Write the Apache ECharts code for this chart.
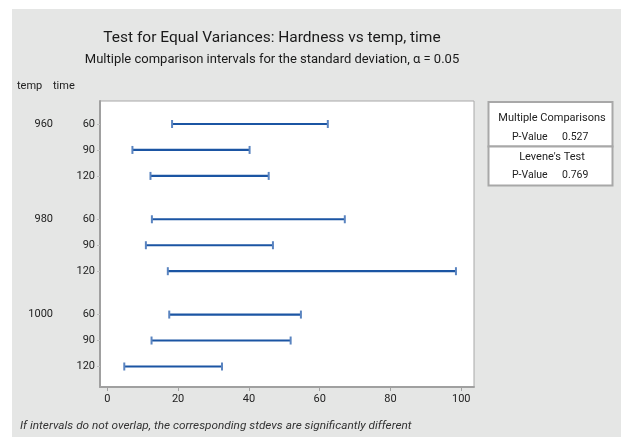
<!DOCTYPE html>
<html>
<head>
<meta charset="utf-8">
<script src="https://cdn.jsdelivr.net/npm/echarts@6/dist/echarts.min.js"></script>
<style>
  html, body { margin: 0; padding: 0; background: #fff; }
  #chart { width: 621px; height: 437px; }
</style>
</head>
<body>
<div id="chart"></div>
<script>
// ---------------------------------------------------
// Datos
// ---------------------------------------------------
const temps = ['960', '980', '1000'];
const times = ['60', '90', '120'];
const lowerCI = [18.3, 7.1, 12.2, 12.6, 10.9, 17.1, 17.5, 12.5, 4.8];
const upperCI = [62.3, 40.2, 45.6, 67.1, 46.8, 98.5, 54.7, 51.8, 32.4];
const xTicks = [0, 20, 40, 60, 80, 100];
const multCompP = '0.527';
const leveneP = '0.769';

const FONT = "'Roboto', sans-serif";
const groupGap = 0.67;

// posicion de cada fila (indice + hueco entre grupos)
const rowPos = [];
const rowTime = {};
const groupStart = {};
temps.forEach((t, g) => {
  times.forEach((tm, i) => {
    const p = +(g * (times.length + groupGap) + i).toFixed(2);
    rowPos.push(p);
    rowTime[p] = tm;
    if (i === 0) groupStart[p] = t;
  });
});

const data = rowPos.map((p, i) => [lowerCI[i], upperCI[i], p]);

const chart = echarts.init(document.getElementById('chart'));

const option = {
  animation: false,
  backgroundColor: '#ffffff',
  textStyle: { fontFamily: FONT },
  title: {
    text: 'Test for Equal Variances: Hardness vs temp, time',
    subtext: 'Multiple comparison intervals for the standard deviation, α = 0.05',
    left: 267,
    textAlign: 'center',
    top: 25,
    itemGap: 7,
    textStyle: { fontFamily: FONT, fontSize: 15.5, fontWeight: 'normal', color: '#1a1a1a' },
    subtextStyle: { fontFamily: FONT, fontSize: 13, color: '#1a1a1a' }
  },
  grid: {
    left: 100, top: 101, right: 147, bottom: 50,
    show: true, backgroundColor: '#ffffff', borderColor: '#a8a8a8', borderWidth: 1
  },
  xAxis: {
    type: 'value',
    min: -2.06,
    max: 103.6,
    axisLine: { show: true, onZero: false, lineStyle: { color: '#a0a0a0', width: 2 } },
    axisTick: { show: true, customValues: xTicks, length: 4, lineStyle: { color: '#a0a0a0' } },
    axisLabel: { customValues: xTicks, fontSize: 11, color: '#222', margin: 7, fontFamily: FONT },
    splitLine: { show: false }
  },
  yAxis: [
    {
      type: 'value',
      inverse: true,
      min: -0.885,
      max: 10.13,
      axisLine: { show: true, onZero: false, lineStyle: { color: '#a0a0a0', width: 2 } },
      axisTick: { show: true, customValues: rowPos, length: 3, lineStyle: { color: '#c0c0c0' } },
      axisLabel: {
        customValues: rowPos, fontSize: 11, color: '#222', margin: 5, fontFamily: FONT,
        formatter: v => rowTime[+v.toFixed(2)] || ''
      },
      splitLine: { show: false }
    },
    {
      type: 'value',
      inverse: true,
      position: 'left',
      min: -0.885,
      max: 10.13,
      offset: 39,
      axisLine: { show: false, onZero: false },
      axisTick: { show: false },
      axisLabel: {
        customValues: Object.keys(groupStart).map(Number), fontSize: 11, color: '#222', fontFamily: FONT,
        formatter: v => groupStart[+v.toFixed(2)] || ''
      },
      splitLine: { show: false }
    }
  ],
  graphic: [
    { type: 'rect', z: -10, silent: true, shape: { x: 12, y: 9, width: 609, height: 428 }, style: { fill: '#e5e6e5' } },
    { type: 'text', left: 17, top: 81, style: { text: 'temp', font: '11px ' + FONT, fill: '#222' } },
    { type: 'text', left: 53, top: 81, style: { text: 'time', font: '11px ' + FONT, fill: '#222' } },
    { type: 'rect', shape: { x: 488.5, y: 102, width: 124, height: 44.5 }, style: { fill: '#fff', stroke: '#a8a8a8', lineWidth: 2 } },
    { type: 'rect', shape: { x: 488.5, y: 146.5, width: 124, height: 39 }, style: { fill: '#fff', stroke: '#a8a8a8', lineWidth: 2 } },
    { type: 'text', x: 552, y: 118, style: { text: 'Multiple Comparisons', font: '11px ' + FONT, fill: '#222', align: 'center', verticalAlign: 'middle' } },
    { type: 'text', x: 512, y: 137, style: { text: 'P-Value', font: '10.5px ' + FONT, fill: '#222', verticalAlign: 'middle' } },
    { type: 'text', x: 562, y: 137, style: { text: multCompP, font: '10.5px ' + FONT, fill: '#222', verticalAlign: 'middle' } },
    { type: 'text', x: 552, y: 157, style: { text: "Levene's Test", font: '11px ' + FONT, fill: '#222', align: 'center', verticalAlign: 'middle' } },
    { type: 'text', x: 512, y: 175, style: { text: 'P-Value', font: '10.5px ' + FONT, fill: '#222', verticalAlign: 'middle' } },
    { type: 'text', x: 562, y: 175, style: { text: leveneP, font: '10.5px ' + FONT, fill: '#222', verticalAlign: 'middle' } },
    { type: 'text', left: 20, top: 420, style: { text: 'If intervals do not overlap, the corresponding stdevs are significantly different', font: 'italic 11.8px ' + FONT, fill: '#333' } }
  ],
  series: [{
    type: 'custom',
    data: data,
    encode: { x: [0, 1], y: 2 },
    renderItem: (params, api) => {
      const a = api.coord([api.value(0), api.value(2)]);
      const b = api.coord([api.value(1), api.value(2)]);
      const h = 4;
      const color = '#1b55a3';
      return {
        type: 'group',
        children: [
          { type: 'line', shape: { x1: a[0], y1: a[1], x2: b[0], y2: b[1] }, style: { stroke: color, lineWidth: 2.2 } },
          { type: 'line', shape: { x1: a[0], y1: a[1] - h, x2: a[0], y2: a[1] + h }, style: { stroke: '#5a84c0', lineWidth: 2 } },
          { type: 'line', shape: { x1: b[0], y1: b[1] - h, x2: b[0], y2: b[1] + h }, style: { stroke: '#5a84c0', lineWidth: 2 } }
        ]
      };
    }
  }]
};

chart.setOption(option);
</script>
</body>
</html>
